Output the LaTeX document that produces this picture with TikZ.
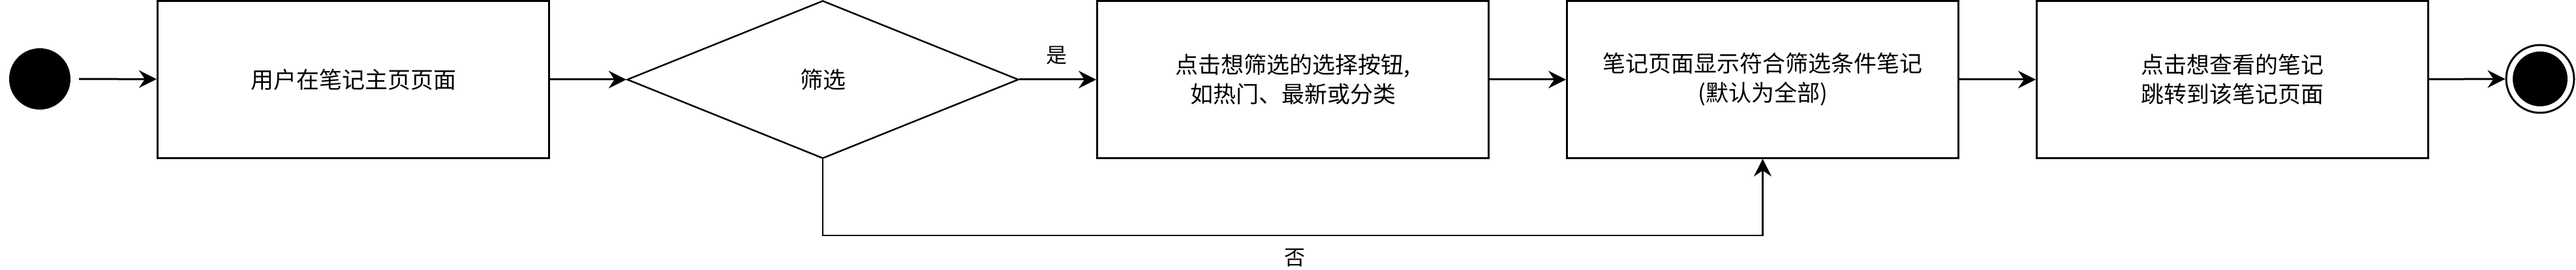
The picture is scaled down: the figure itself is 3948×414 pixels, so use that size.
\documentclass[tikz,border=0pt]{standalone}
\usepackage{fontspec}
\setmainfont{Noto Sans CJK SC}
\usetikzlibrary{shapes.geometric,arrows.meta}
\begin{document}
\begin{tikzpicture}[x=1pt,y=-1pt,
  box/.style={draw,line width=3pt,minimum width=600pt,minimum height=240pt,align=center,inner sep=0pt,font=\fontsize{35}{45}\selectfont},
  conn/.style={line width=3pt,-{Stealth[length=27pt,width=27pt,inset=9pt]}},
  lbl/.style={font=\fontsize{32}{38}\selectfont,inner sep=0pt}]
\useasboundingbox (0,0) rectangle (3948,414);
\node[circle,fill=black,minimum size=94pt,inner sep=0pt] (start) at (61,121) {};
\node[box] (b1) at (541.5,122) {用户在笔记主页页面};
\node[diamond,draw,line width=2.5pt,minimum width=600pt,minimum height=242pt,inner sep=0pt,font=\fontsize{35}{45}\selectfont] (dia) at (1261,122) {筛选};
\node[box] (b2) at (1981.5,122) {点击想筛选的选择按钮,\\如热门、最新或分类};
\node[box] (b3) at (2701.5,122) {笔记页面显示符合筛选条件笔记\\(默认为全部)};
\node[box] (b4) at (3421.5,122) {点击想查看的笔记\\跳转到该笔记页面};
\node[circle,draw,line width=3pt,fill=white,minimum size=104pt,inner sep=0pt] (end) at (3893,121) {};
\node[circle,fill=black,minimum size=84pt,inner sep=0pt] (endin) at (end.center) {};
\coordinate (turn) at (1261,361);
\draw[conn,shorten <=13pt] (start) -- (b1);
\draw[conn] (b1) -- (dia);
\draw[conn] (dia) -- (b2);
\node[lbl] (yes) at (1619,85) {是};
\draw[conn] (b2) -- (b3);
\draw[conn,line width=2.5pt] (dia.south) -- (turn) -| (b3.south);
\node[lbl] (no) at (1984,395) {否};
\draw[conn] (b3) -- (b4);
\draw[conn] (b4) -- (end);
\end{tikzpicture}
\end{document}
